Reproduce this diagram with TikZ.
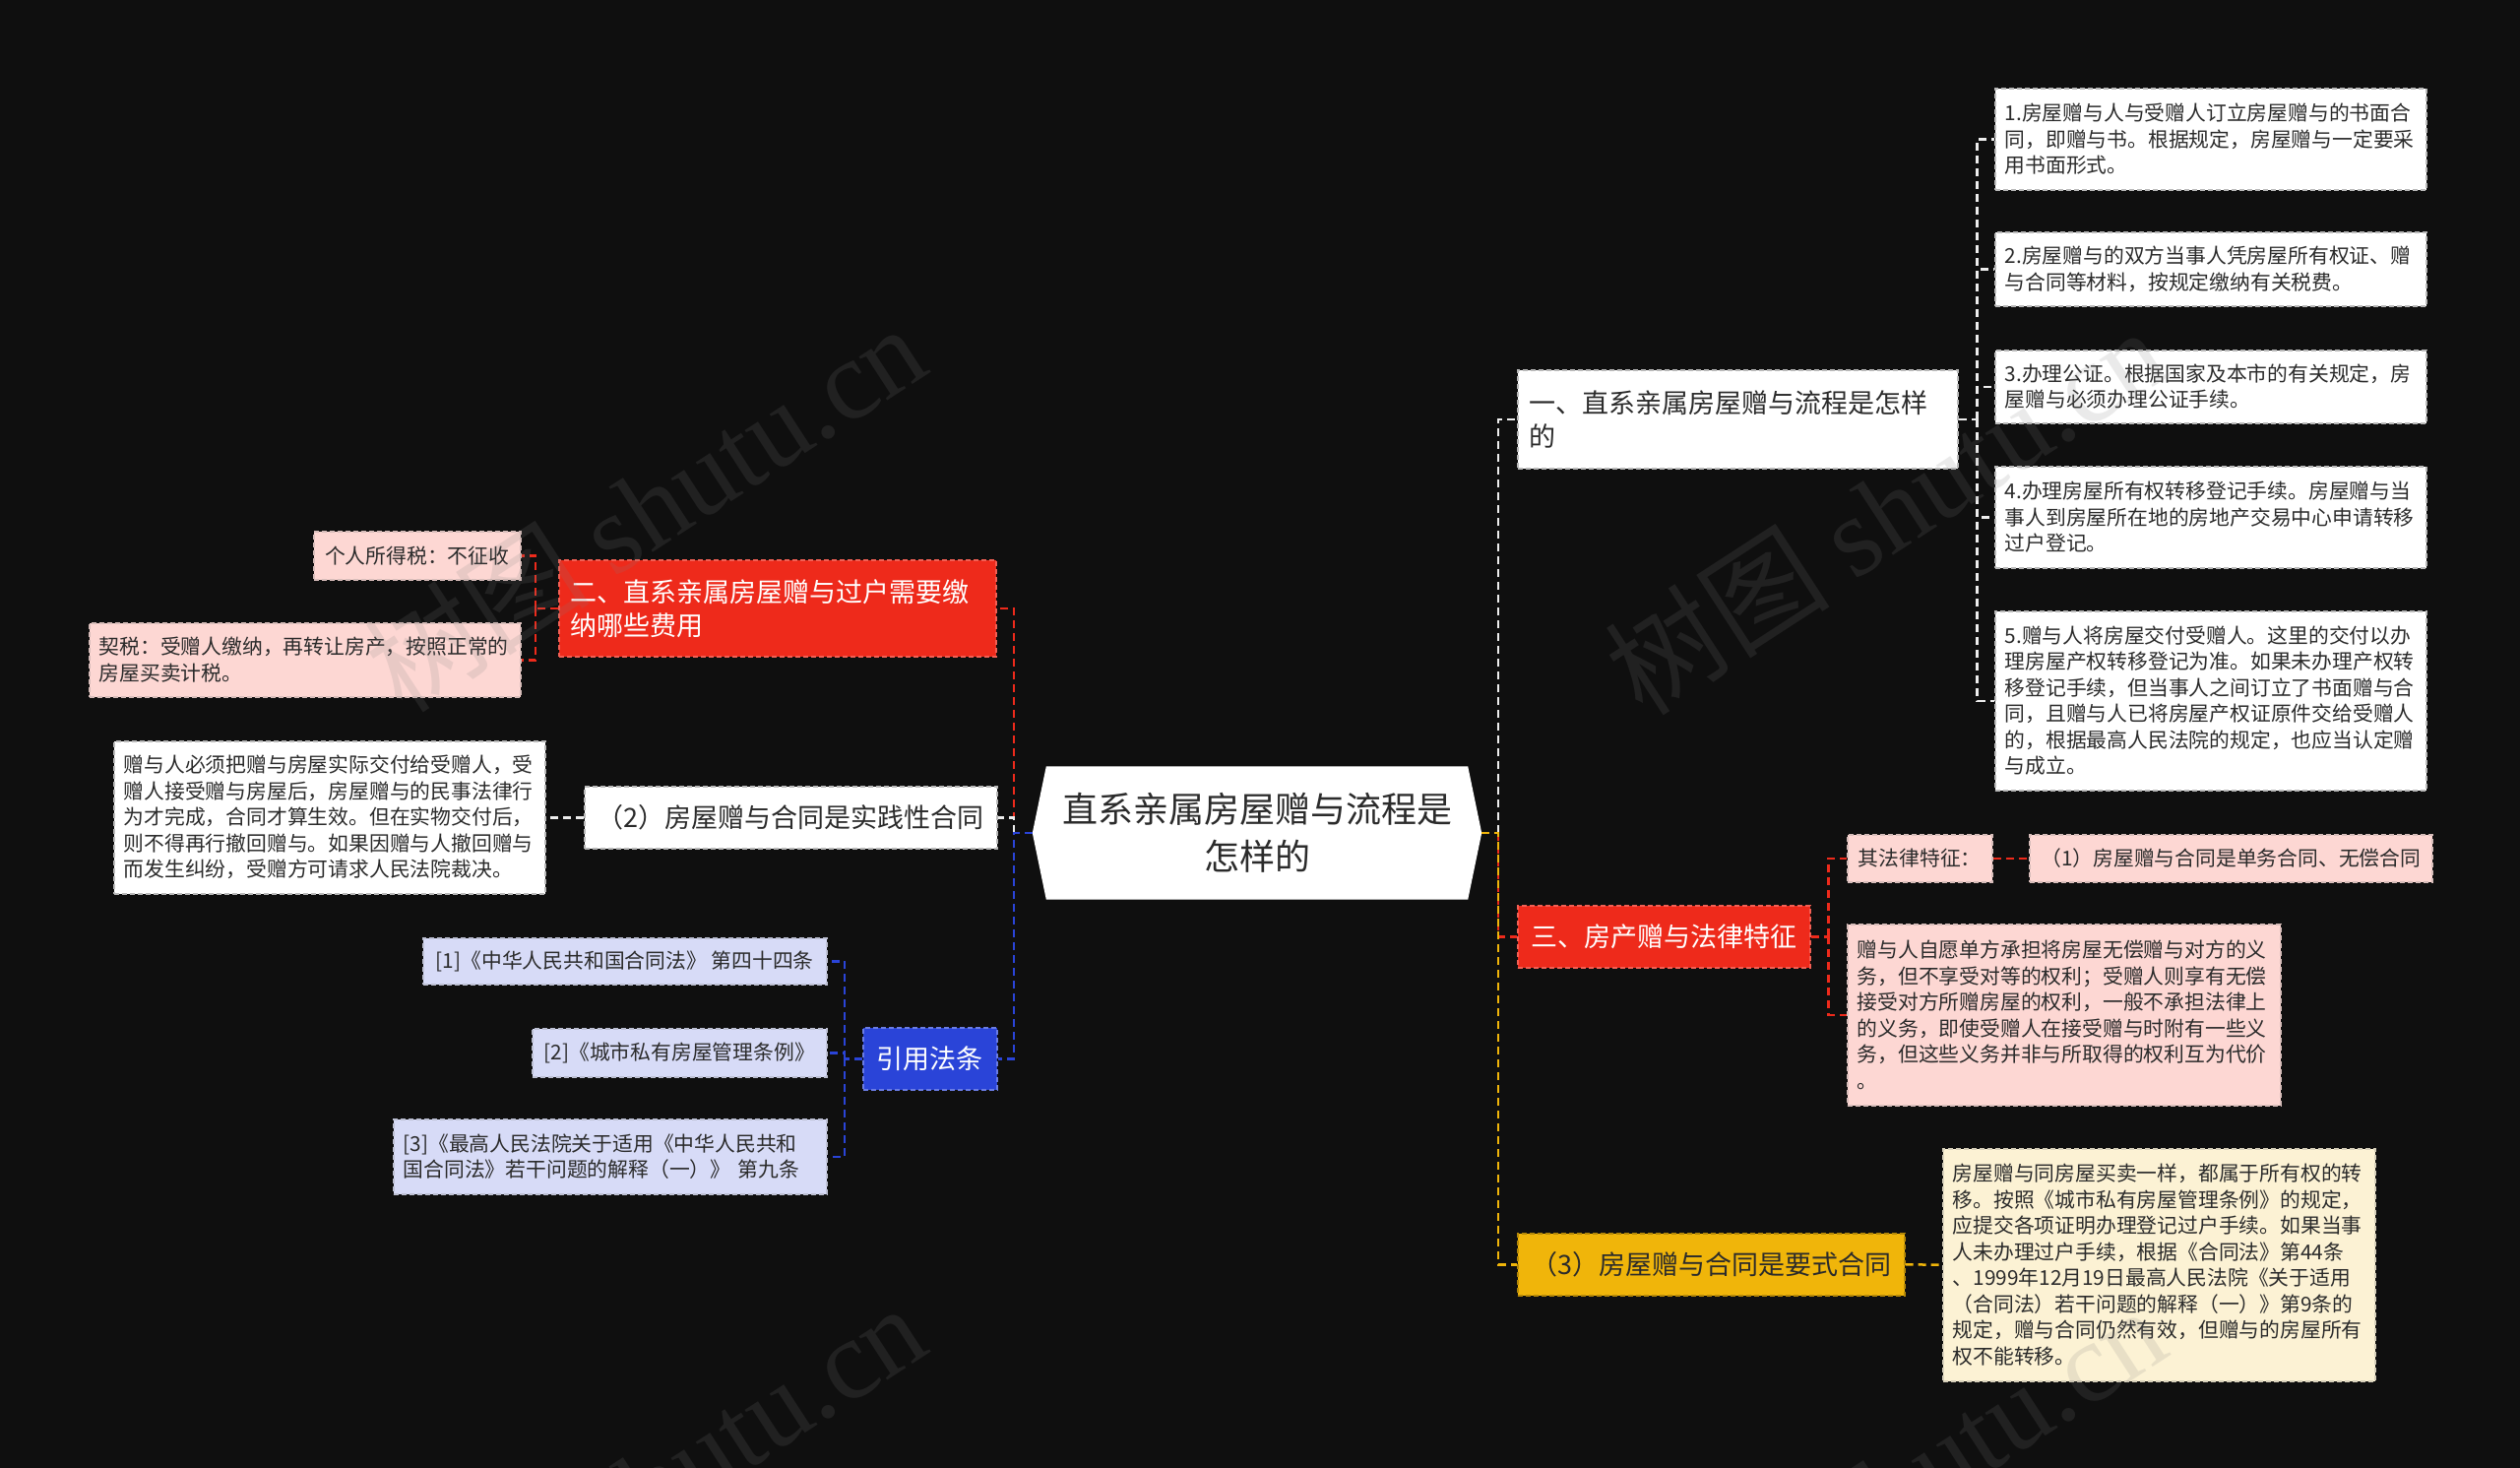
\documentclass[tikz,border=0pt]{standalone}
\usepackage{fontspec}
\setmainfont{Noto Sans CJK SC}
\newfontfamily\wmserif{Liberation Serif}
\usetikzlibrary{calc,backgrounds}
\definecolor{bgc}{HTML}{0F0F0F}
\definecolor{txt}{HTML}{2B2B2B}
\definecolor{redA}{HTML}{EE2A1B}
\definecolor{blueA}{HTML}{2A44D8}
\definecolor{yelA}{HTML}{F0B50A}
\definecolor{pinkD}{HTML}{FDD7D3}
\definecolor{lavD}{HTML}{D7DBF7}
\definecolor{creamD}{HTML}{FCF2D4}
\definecolor{lineW}{HTML}{EDEDED}
\newcommand\myD{\fontsize{20.8pt}{26.5pt}\selectfont}
\newcommand\myL{\fontsize{27pt}{34pt}\selectfont}
\newcommand\myC{\fontsize{36pt}{48pt}\selectfont}
\tikzset{
  box/.style={anchor=north west, inner ysep=0pt, align=left, line width=1.5pt,
    dash pattern=on 5pt off 3pt, text=txt},
  detbox/.style={box, inner xsep=10pt, font=\myD},
  detW/.style={detbox, fill=white, draw=gray!55},
  detR/.style={detbox, fill=pinkD, draw=pinkD!70!gray},
  detB/.style={detbox, fill=lavD, draw=lavD!70!gray},
  detY/.style={detbox, fill=creamD, draw=creamD!70!gray},
  lvbox/.style={box, inner xsep=12pt, font=\myL},
  lvW/.style={lvbox, fill=white, draw=gray!55},
  lvR/.style={lvbox, fill=redA, draw=redA!75!white, text=white},
  lvB/.style={lvbox, fill=blueA, draw=blueA!70!white, text=white},
  lvY/.style={lvbox, fill=yelA, draw=yelA!75!black},
  conn/.style={line width=2.5pt, dash pattern=on 8pt off 5pt},
  cW/.style={conn, draw=lineW},
  cR/.style={conn, draw=redA},
  cB/.style={conn, draw=blueA},
  cY/.style={conn, draw=yelA},
}
\begin{document}
\begin{tikzpicture}[x=1pt,y=-1pt]
\useasboundingbox (0,0) rectangle (2560,1491);
\begin{scope}[on background layer]
\fill[bgc] (0,0) rectangle (2560,1491);
\end{scope}

% central
\node[minimum width=456pt, minimum height=135pt, inner sep=0pt, align=center,
  font=\myC, text=txt] (c) at (1277,846) {直系亲属房屋赠与流程是\\怎样的};
\begin{scope}[on background layer]
\fill[white] (c.west) -- ($(c.north west)+(14,0)$) -- ($(c.north east)+(-14,0)$)
  -- (c.east) -- ($(c.south east)+(-14,0)$) -- ($(c.south west)+(14,0)$) -- cycle;
\end{scope}

% right level 1
\node[lvW, text width=423pt, minimum height=100pt] (n1) at (1541,375)
  {一、直系亲属房屋赠与流程是怎样\\的};
\node[lvR, minimum width=297pt, minimum height=63pt, align=center] (n3) at (1541,919)
  {三、房产赠与法律特征};
\node[lvY, minimum width=393pt, minimum height=63pt, align=center] (n4) at (1541,1252)
  {（3）房屋赠与合同是要式合同};

% right details
\node[detW, text width=418pt, minimum height=103pt] (d1) at (2026,89)
  {1.房屋赠与人与受赠人订立房屋赠与的书面合\\同，即赠与书。根据规定，房屋赠与一定要采\\用书面形式。};
\node[detW, text width=418pt, minimum height=75pt] (d2) at (2026,235)
  {2.房屋赠与的双方当事人凭房屋所有权证、赠\\与合同等材料，按规定缴纳有关税费。};
\node[detW, text width=418pt, minimum height=74pt] (d3) at (2026,355)
  {3.办理公证。根据国家及本市的有关规定，房\\屋赠与必须办理公证手续。};
\node[detW, text width=418pt, minimum height=103pt] (d4) at (2026,473)
  {4.办理房屋所有权转移登记手续。房屋赠与当\\事人到房屋所在地的房地产交易中心申请转移\\过户登记。};
\node[detW, text width=418pt, minimum height=182pt] (d5) at (2026,620)
  {5.赠与人将房屋交付受赠人。这里的交付以办\\理房屋产权转移登记为准。如果未办理产权转\\移登记手续，但当事人之间订立了书面赠与合\\同，且赠与人已将房屋产权证原件交给受赠人\\的，根据最高人民法院的规定，也应当认定赠\\与成立。};

\node[detR, minimum width=147pt, minimum height=48pt, align=center] (e1) at (1876,847)
  {其法律特征：};
\node[detR, minimum width=409pt, minimum height=48pt, align=center] (e2) at (2061,847)
  {（1）房屋赠与合同是单务合同、无偿合同};
\node[detR, text width=420pt, minimum height=184pt] (e3) at (1876,938)
  {赠与人自愿单方承担将房屋无偿赠与对方的义\\务，但不享受对等的权利；受赠人则享有无偿\\接受对方所赠房屋的权利，一般不承担法律上\\的义务，即使受赠人在接受赠与时附有一些义\\务，但这些义务并非与所取得的权利互为代价\\。};

\node[detY, text width=419pt, minimum height=236pt] (f1) at (1973,1166)
  {房屋赠与同房屋买卖一样，都属于所有权的转\\移。按照《城市私有房屋管理条例》的规定，\\应提交各项证明办理登记过户手续。如果当事\\人未办理过户手续，根据《合同法》第44条\\、1999年12月19日最高人民法院《关于适用\\（合同法）若干问题的解释（一）》第9条的\\规定，赠与合同仍然有效，但赠与的房屋所有\\权不能转移。};

% left level 1
\node[lvR, text width=420pt, minimum height=98pt] (n2) at (567,568)
  {二、直系亲属房屋赠与过户需要缴\\纳哪些费用};
\node[lvW, minimum width=419pt, minimum height=63pt, align=center] (n5) at (593,798)
  {（2）房屋赠与合同是实践性合同};
\node[lvB, minimum width=136pt, minimum height=63pt, align=center] (n6) at (876,1043)
  {引用法条};

% left details
\node[detR, minimum width=210pt, minimum height=49pt, align=center] (g1) at (318,539)
  {个人所得税：不征收};
\node[detR, text width=418pt, minimum height=75pt] (g2) at (90,632)
  {契税：受赠人缴纳，再转让房产，按照正常的\\房屋买卖计税。};
\node[detW, text width=418pt, minimum height=155pt] (h1) at (115,752)
  {赠与人必须把赠与房屋实际交付给受赠人，受\\赠人接受赠与房屋后，房屋赠与的民事法律行\\为才完成，合同才算生效。但在实物交付后，\\则不得再行撤回赠与。如果因赠与人撤回赠与\\而发生纠纷，受赠方可请求人民法院裁决。};
\node[detB, minimum width=410pt, minimum height=47pt, align=center] (i1) at (429,952)
  {[1]《中华人民共和国合同法》 第四十四条};
\node[detB, minimum width=299pt, minimum height=49pt, align=center] (i2) at (540,1044)
  {[2]《城市私有房屋管理条例》};
\node[detB, text width=420pt, minimum height=76pt] (i3) at (399,1136)
  {[3]《最高人民法院关于适用《中华人民共和\\国合同法》若干问题的解释（一）》 第九条};

% junctions
\coordinate (rj) at (1522,846);
\coordinate (lj) at (1030,846);
\coordinate (k1) at ($(n1.east)+(19,0)$);
\coordinate (k3) at ($(n3.east)+(18,0)$);
\coordinate (k2) at ($(n2.west)+(-23,0)$);
\coordinate (k6) at ($(n6.west)+(-18,0)$);

% right connectors
\draw[cW] (rj) |- (n1.west);
\draw[cR] (rj) |- (n3.west);
\draw[cY] (c.east) -- (rj) |- (n4.west);
\draw[cW] (n1.east) -- (k1);
\draw[cW] (k1) |- (d1.west);
\draw[cW] (k1) |- (d2.west);
\draw[cW] (k1) |- (d3.west);
\draw[cW] (k1) |- (d4.west);
\draw[cW] (k1) |- (d5.west);
\draw[cR] (n3.east) -- (k3);
\draw[cR] (k3) |- (e1.west);
\draw[cR] (k3) |- (e3.west);
\draw[cR] (e1.east) -- (e2.west);
\draw[cY] (n4.east) -- (f1.west);

% left connectors
\draw[cR] (lj) |- (n2.east);
\draw[cW] (lj) |- (n5.east);
\draw[cB] (c.west) -- (lj) |- (n6.east);
\draw[cR] (n2.west) -- (k2);
\draw[cR] (k2) |- (g1.east);
\draw[cR] (k2) |- (g2.east);
\draw[cW] (n5.west) -- (h1.east);
\draw[cB] (n6.west) -- (k6);
\draw[cB] (k6) |- (i1.east);
\draw[cB] (k6) |- (i2.east);
\draw[cB] (k6) |- (i3.east);

% watermarks
\begin{scope}
\clip (0,0) rectangle (2560,1491);
\foreach \wx/\wy in {655/515, 1915/518, 655/1510, 1915/1513}{
  \node[rotate=33, text=gray, opacity=0.16, font=\fontsize{115pt}{125pt}\selectfont]
    at (\wx,\wy) {树图 {\wmserif shutu.cn}};
}
\end{scope}
\end{tikzpicture}
\end{document}
